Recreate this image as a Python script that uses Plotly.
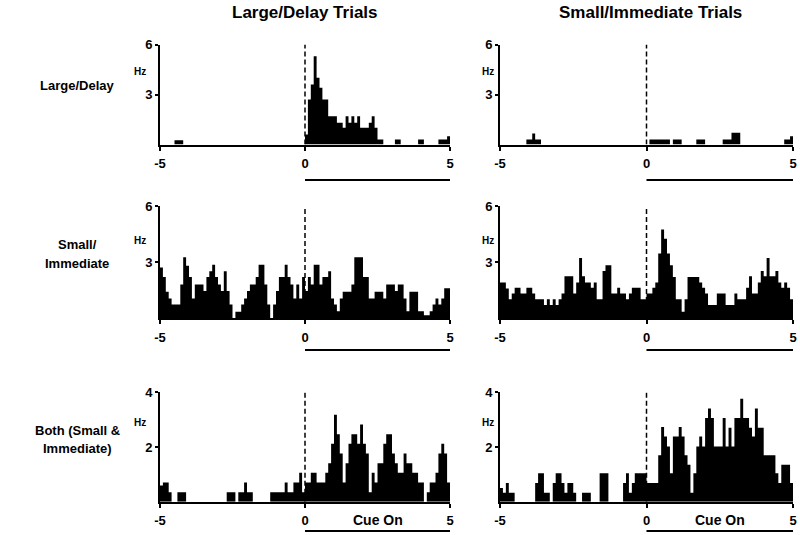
import numpy as np
import plotly.graph_objects as go

# ---- data: firing rate (Hz) in 0.1 s bins from -5 to 5 s ----
bin_edges = np.round(np.arange(-5, 5.0001, 0.1), 3)  # 101 edges

# Row 1: Large/Delay neuron
ld_neuron_ld_trials_pre = [0, 0, 0, 0, 0, 0.26, 0.26, 0.26, 0, 0,
                           0, 0, 0, 0, 0, 0, 0, 0, 0, 0,
                           0, 0, 0, 0, 0, 0, 0, 0, 0, 0,
                           0, 0, 0, 0, 0, 0, 0, 0, 0, 0,
                           0, 0, 0, 0, 0, 0, 0, 0, 0, 0]
ld_neuron_ld_trials_post = [0.6, 2.7, 3.6, 5.3, 4.0, 3.4, 2.7, 2.7, 1.7, 1.7,
                            1.7, 1.3, 1.3, 1.0, 1.7, 1.3, 1.7, 1.3, 1.7, 1.0,
                            1.0, 1.0, 1.3, 1.7, 1.0, 0.3, 0.3, 0, 0, 0,
                            0, 0.3, 0.3, 0, 0, 0, 0, 0, 0, 0.3,
                            0.3, 0, 0, 0, 0, 0, 0.3, 0.3, 0.3, 0.5]
ld_neuron_si_trials_pre = [0, 0, 0, 0, 0, 0, 0, 0, 0, 0.3,
                           0.3, 0.66, 0.3, 0.3, 0, 0, 0, 0, 0, 0,
                           0, 0, 0, 0, 0, 0, 0, 0, 0, 0,
                           0, 0, 0, 0, 0, 0, 0, 0, 0, 0,
                           0, 0, 0, 0, 0, 0, 0, 0, 0, 0]
ld_neuron_si_trials_post = [0, 0.3, 0.3, 0.3, 0.3, 0.3, 0.3, 0.3, 0, 0.3,
                            0.3, 0.3, 0, 0, 0, 0, 0, 0.3, 0.3, 0.3,
                            0, 0, 0, 0, 0, 0, 0.3, 0.3, 0.3, 0.7,
                            0.7, 0.7, 0, 0, 0, 0, 0, 0, 0, 0,
                            0, 0, 0, 0, 0, 0, 0, 0.3, 0.3, 0.5]

# Row 2: Small/Immediate neuron
si_neuron_ld_trials_pre = [2.7, 2.2, 1.4, 1.05, 0.72, 0.72, 0.72, 1.8, 3.25, 2.8,
                           2.2, 1.05, 1.8, 1.8, 1.8, 1.45, 2.2, 2.5, 2.85, 2.2,
                           1.8, 1.45, 2.5, 1.45, 0.72, 0, 0.33, 0.33, 0.72, 1.05,
                           1.45, 1.8, 1.8, 2.2, 2.85, 2.85, 1.8, 0.72, 0, 0.72,
                           1.45, 2.2, 2.2, 2.85, 2.2, 1.8, 1.05, 1.8, 1.05, 2.2]
si_neuron_ld_trials_post = [1.45, 2.2, 1.8, 2.85, 2.85, 1.8, 2.2, 2.2, 2.5, 1.05,
                            0.72, 0.36, 1.05, 1.4, 1.4, 1.4, 1.8, 3.25, 3.25, 3.25,
                            2.2, 2.2, 1.05, 1.05, 1.4, 1.4, 1.4, 1.05, 1.8, 1.8,
                            1.8, 1.45, 1.8, 1.8, 1.05, 0.36, 1.4, 1.4, 1.4, 0.36,
                            0.36, 0.15, 0.15, 0.36, 0.72, 1.05, 0.72, 1.05, 1.6, 1.6]
si_neuron_si_trials_pre = [1.9, 1.9, 1.58, 1.0, 1.31, 1.62, 1.62, 1.31, 1.31, 1.62,
                           1.62, 1.31, 1.0, 1.0, 1.0, 0.69, 1.0, 0.69, 1.0, 0.69,
                           1.0, 1.31, 2.24, 2.24, 2.24, 1.31, 1.9, 3.21, 2.24, 1.9,
                           1.9, 1.62, 1.9, 1.0, 1.0, 2.52, 2.82, 2.82, 1.31, 1.31,
                           1.62, 1.31, 1.31, 1.0, 1.31, 1.62, 1.62, 1.62, 1.0, 1.0]
si_neuron_si_trials_post = [1.31, 1.31, 1.62, 1.9, 3.45, 4.74, 4.24, 3.45, 2.82, 2.2,
                            1.0, 1.0, 0.34, 1.0, 2.2, 2.2, 2.2, 2.2, 1.9, 1.62,
                            1.31, 0.69, 0.69, 0.69, 1.31, 1.31, 1.31, 0.69, 0.69, 0.69,
                            1.31, 1.0, 1.0, 1.0, 1.62, 2.24, 1.31, 1.31, 1.9, 2.52,
                            2.24, 3.21, 2.24, 2.24, 2.52, 1.9, 1.62, 1.9, 1.62, 1.0]

# Row 3: Both (Small & Immediate) neuron
both_neuron_ld_trials_pre = [0.59, 0.7, 0.7, 0.35, 0, 0, 0.35, 0.35, 0.35, 0,
                             0, 0, 0, 0, 0, 0, 0, 0, 0, 0,
                             0, 0, 0, 0.35, 0.35, 0.35, 0, 0.35, 0.35, 0.7,
                             0.35, 0.35, 0, 0, 0, 0, 0, 0, 0.35, 0.35,
                             0.35, 0.35, 0.35, 0.7, 0.35, 0.35, 0.7, 0.7, 1.06, 0.35]
both_neuron_ld_trials_post = [0.7, 0.7, 1.06, 1.06, 0.7, 0.7, 0.7, 1.06, 1.41, 2.12,
                              3.18, 2.47, 1.76, 0.7, 1.41, 2.12, 2.47, 2.47, 2.12, 2.82,
                              2.12, 1.76, 0.35, 1.06, 0.7, 1.41, 1.41, 2.12, 2.47, 2.47,
                              1.76, 1.41, 1.06, 1.06, 1.76, 1.41, 1.41, 1.06, 1.06, 0.7,
                              0.7, 0, 0.35, 0.7, 0.7, 1.06, 1.76, 2.12, 1.76, 0.7]
both_neuron_si_trials_pre = [0.5, 0.33, 0.68, 0.33, 0.33, 0, 0, 0, 0, 0,
                             0, 0, 0.68, 1.04, 1.04, 0.33, 0.33, 0, 0.68, 1.04,
                             1.04, 0.68, 0.33, 0.68, 0.68, 0.33, 0, 0, 0.33, 0.33,
                             0.33, 0, 0, 0, 1.04, 1.04, 1.04, 0, 0, 0,
                             0, 0, 0.68, 1.04, 0.33, 0.68, 1.04, 1.04, 1.04, 1.04]
both_neuron_si_trials_post = [0.68, 0.68, 0.68, 0.68, 1.7, 2.73, 2.38, 2.02, 1.04, 2.38,
                              2.38, 2.73, 2.38, 1.7, 1.35, 0.33, 1.04, 2.02, 2.38, 2.02,
                              3.06, 3.41, 3.06, 2.02, 2.02, 2.02, 3.06, 2.02, 2.7, 2.02,
                              3.06, 3.06, 3.76, 3.06, 3.06, 2.7, 2.38, 3.41, 2.7, 2.7,
                              1.7, 1.7, 1.7, 1.7, 1.04, 0.68, 1.35, 1.35, 1.35, 0.68]

panels = [
    ld_neuron_ld_trials_pre + ld_neuron_ld_trials_post,
    ld_neuron_si_trials_pre + ld_neuron_si_trials_post,
    si_neuron_ld_trials_pre + si_neuron_ld_trials_post,
    si_neuron_si_trials_pre + si_neuron_si_trials_post,
    both_neuron_ld_trials_pre + both_neuron_ld_trials_post,
    both_neuron_si_trials_pre + both_neuron_si_trials_post,
]

column_titles = ["Large/Delay Trials", "Small/Immediate Trials"]
row_labels = [["Large/Delay"], ["Small/", "Immediate"], ["Both (Small &", "Immediate)"]]
y_max = [6, 6, 4]
y_ticks = [[3, 6], [3, 6], [2, 4]]
x_ticks = [-5, 0, 5]

# ---- layout geometry (screen pixels) ----
W, H = 800, 535
FONT = "Liberation Sans, Arial, sans-serif"
col_px = [(160, 450), (500, 793)]
row_px = [(44.5, 144.5), (206, 318), (392.3, 501.7)]  # (top, baseline)
underline_py = [180, 350, 531]
hz_py = [71, 240, 422]
hz_px = [140, 488]
xlab_py = [161, 334, 520]

def fx(px):
    return px / W

def fy(py):
    return 1 - py / H

fig = go.Figure()
layout = dict(
    template="none",
    width=W, height=H, margin=dict(l=0, r=0, t=0, b=0, pad=0, autoexpand=False),
    paper_bgcolor="white", plot_bgcolor="white", showlegend=False,
    font=dict(family=FONT, color="black"),
)
shapes = []
annotations = []

for r in range(3):
    for c in range(2):
        i = r * 2 + c + 1
        suffix = "" if i == 1 else str(i)
        vals = panels[i - 1]
        # step histogram: each bin drawn from its left edge to the next edge
        fig.add_trace(go.Scatter(
            x=bin_edges, y=list(vals) + [vals[-1]],
            mode="lines", line=dict(shape="hv", width=0, color="black"),
            fill="tozeroy", fillcolor="black",
            xaxis="x" + suffix, yaxis="y" + suffix, hoverinfo="x+y",
        ))
        layout["xaxis" + suffix] = dict(
            domain=[fx(col_px[c][0]), fx(col_px[c][1])], range=[-5, 5],
            anchor="y" + suffix, automargin=False,
            showline=True, linewidth=2, linecolor="black",
            ticks="outside", ticklen=4, tickwidth=2, tickcolor="black",
            tickvals=x_ticks, ticktext=[str(v) for v in x_ticks],
            tickfont=dict(size=13, family=FONT, weight="bold", color="black"),
            ticklabelstandoff=2,
            showgrid=False, zeroline=False, fixedrange=True,
        )
        layout["yaxis" + suffix] = dict(
            domain=[fy(row_px[r][1]), fy(row_px[r][0])], range=[0, y_max[r]],
            anchor="x" + suffix, automargin=False,
            showline=True, linewidth=2, linecolor="black",
            ticks="outside", ticklen=3, tickwidth=2, tickcolor="black",
            tickvals=y_ticks[r], ticktext=[str(v) for v in y_ticks[r]],
            tickfont=dict(size=13, family=FONT, weight="bold", color="black"),
            showgrid=False, zeroline=False, fixedrange=True,
        )
        # dashed cue line at t = 0
        shapes.append(dict(type="line", xref="x" + suffix, yref="y" + suffix,
                           x0=0, x1=0, y0=0, y1=y_max[r], layer="above",
                           line=dict(color="black", width=1.5, dash="5px,3px")))
        # cue-on bar under 0..5
        shapes.append(dict(type="line", xref="x" + suffix, yref="paper",
                           x0=0, x1=5, y0=fy(underline_py[r]), y1=fy(underline_py[r]),
                           line=dict(color="black", width=2)))
        annotations.append(dict(text="<b>Hz</b>", xref="paper", yref="paper",
                                x=fx(hz_px[c]), y=fy(hz_py[r]), showarrow=False,
                                xanchor="center", yanchor="middle",
                                font=dict(size=10, family=FONT, color="black")))
        if r == 2:
            annotations.append(dict(text="<b>Cue On</b>", xref="x" + suffix, yref="paper",
                                    x=2.5, y=fy(xlab_py[r]), showarrow=False,
                                    xanchor="center", yanchor="middle",
                                    font=dict(size=14, family=FONT, color="black")))

# column titles
for c, title in enumerate(column_titles):
    cx = [305, 650][c]
    annotations.append(dict(text="<b>" + title + "</b>", xref="paper", yref="paper",
                            x=fx(cx), y=fy(12), showarrow=False,
                            xanchor="center", yanchor="middle",
                            font=dict(size=17, family=FONT, color="black")))

# row labels
row_label_py = [[85], [245, 263], [430, 448]]
for r, lines in enumerate(row_labels):
    for text, py in zip(lines, row_label_py[r]):
        annotations.append(dict(text="<b>" + text + "</b>", xref="paper", yref="paper",
                                x=fx(77), y=fy(py), showarrow=False,
                                xanchor="center", yanchor="middle",
                                font=dict(size=13, family=FONT, color="black")))

layout["shapes"] = shapes
layout["annotations"] = annotations
fig.update_layout(**layout)
fig.write_html(
    "out.html",
    config={"displayModeBar": False, "staticPlot": True},
    post_script="document.body.style.margin='0';document.body.style.overflow='hidden';window.scrollTo(0,0);",
)
